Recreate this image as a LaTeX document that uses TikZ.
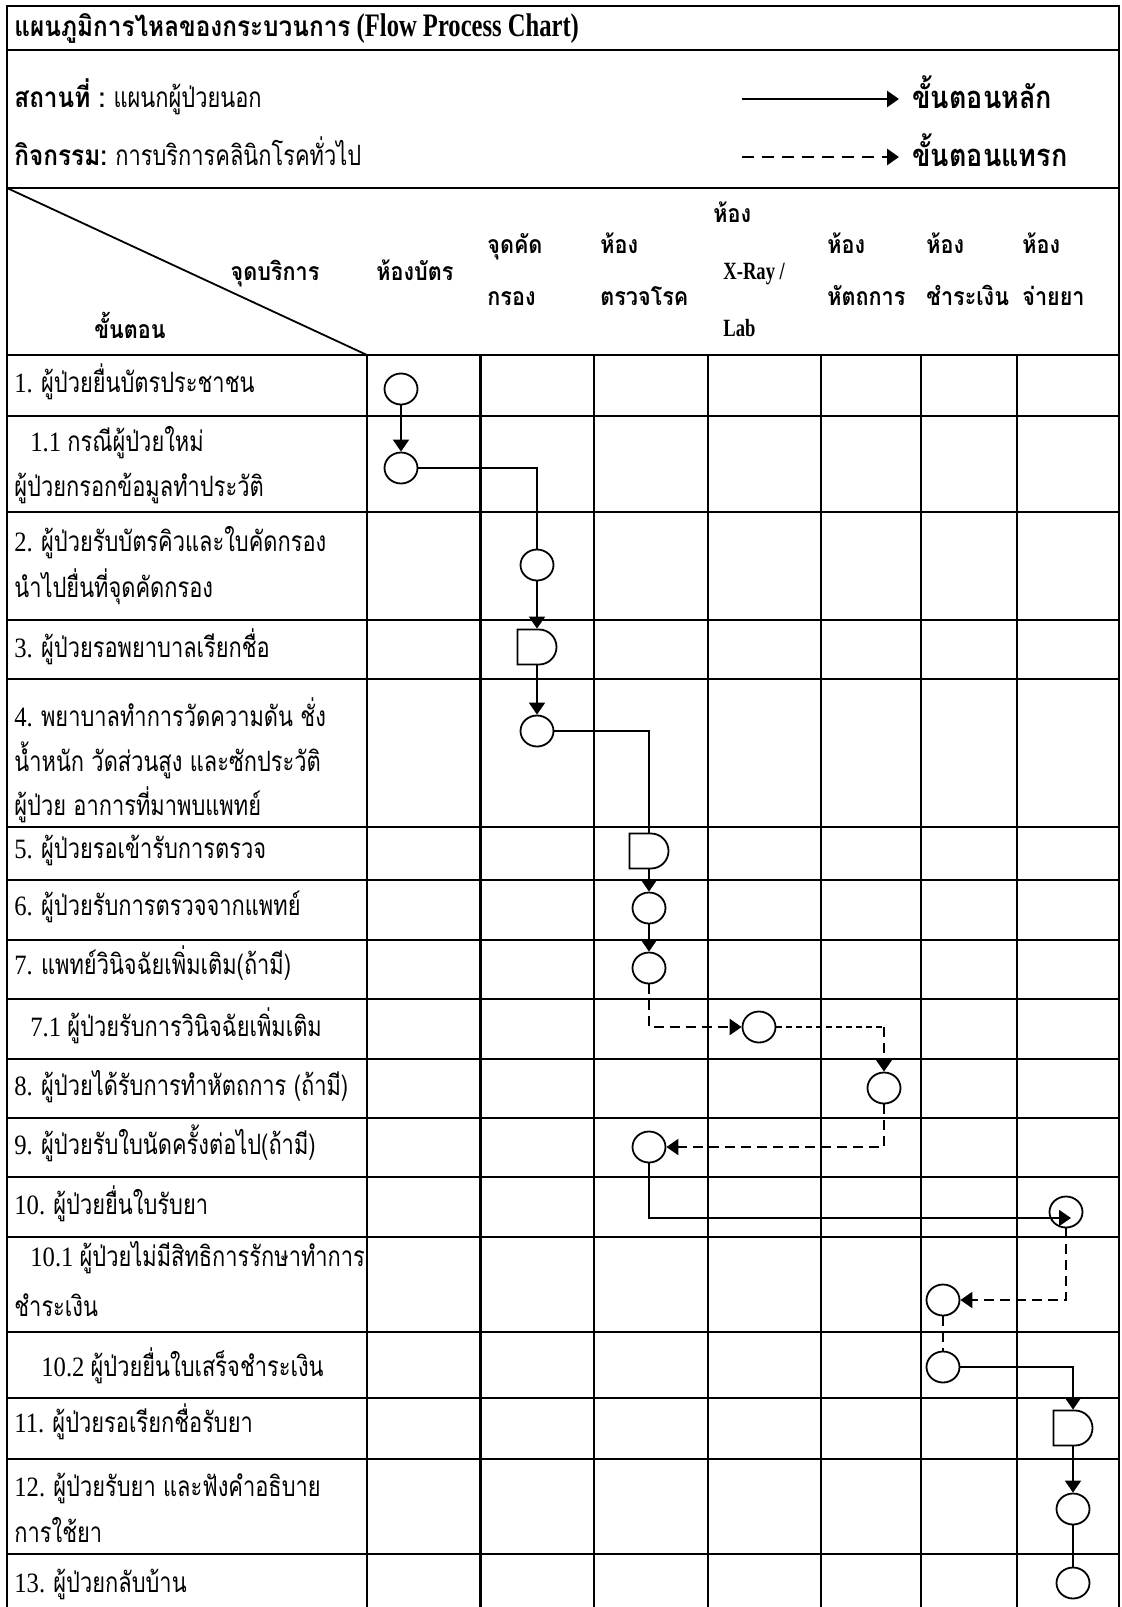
\documentclass[tikz,border=0pt]{standalone}
\usepackage{fontspec}
\setmainfont{Liberation Serif}[FakeStretch=0.88]
\newfontfamily\narrowlatin{Liberation Serif}[FakeStretch=0.75]
\newfontfamily\thai{Loma}[Script=Thai,FakeStretch=0.78,BoldFeatures={FakeStretch=0.87}]
\usetikzlibrary{shapes.geometric,shapes.misc,arrows.meta}

\begin{document}
\begin{tikzpicture}[x=0.5pt,y=-0.5pt,
  gridline/.style={line width=1.1pt},
  act/.style={ellipse,draw,line width=0.9pt,minimum width=16.5pt,minimum height=15.5pt,inner sep=0pt},
  wait/.style={rounded rectangle,rounded rectangle left arc=none,draw,line width=0.9pt,minimum width=19.5pt,minimum height=17.5pt,inner sep=0pt},
  plain/.style={line width=1pt},
  main/.style={line width=1pt,-{Triangle[length=6pt,width=8pt]}},
  extra/.style={line width=1.2pt,dash pattern=on 5pt off 3pt,-{Triangle[length=6pt,width=8pt]}},
  extraplain/.style={line width=1.2pt,dash pattern=on 5pt off 3pt},
  thindash/.style={line width=0.8pt,dash pattern=on 3pt off 2pt},
  legenddash/.style={line width=1.4pt,dash pattern=on 6pt off 4pt,-{Triangle[length=6pt,width=8pt]}},
  steptext/.style={anchor=base west,inner sep=0pt,font=\fontsize{14}{17}\selectfont},
  headtext/.style={anchor=base west,inner sep=0pt,font=\bfseries\fontsize{12.4}{15}\selectfont},
  titletext/.style={anchor=base west,inner sep=0pt,font=\bfseries\fontsize{14}{17}\selectfont},
  legendtext/.style={anchor=base west,inner sep=0pt,font=\bfseries\fontsize{15.5}{19}\selectfont}]
  \useasboundingbox (0,0) rectangle (1122,1607);

  % table
  \draw[gridline] (7,1607) -- (7,6) -- (1119,6) -- (1119,1607);
  \foreach \y in {50,188,355,415.7,512,619.7,679,827,880,940,999,1059,1117.7,1177.3,1236.7,1331.7,1398.3,1459,1554}
    \draw[gridline] (7,\y) -- (1119,\y);
  \foreach \x in {367,480.5,593.7,708,820.6,920.7,1017}
    \draw[gridline] (\x,355) -- (\x,1607);
  \draw[line width=0.9pt] (7,188) -- (367,355);

  % heading
  \node[titletext] (title) at (14,36) {{\thai แผนภูมิการไหลของกระบวนการ} {\narrowlatin\fontsize{16.4}{17}\selectfont (Flow Process Chart)}};
  \node[steptext] (place) at (14,107) {{\bfseries\thai สถานที่ :} {\thai แผนกผู้ป่วยนอก}};
  \node[steptext] (task) at (14,165) {{\bfseries\thai กิจกรรม:} {\thai การบริการคลินิกโรคทั่วไป}};
  \coordinate (lga) at (742,99);
  \coordinate (lgb) at (899,99);
  \coordinate (lgc) at (742,157);
  \coordinate (lgd) at (899,157);
  \draw[main,line width=1.3pt] (lga) -- (lgb);
  \draw[legenddash] (lgc) -- (lgd);
  \node[legendtext] (lgmain) at (912,108) {\thai ขั้นตอนหลัก};
  \node[legendtext] (lgextra) at (912,166) {\thai ขั้นตอนแทรก};

  % column heads
  \node[headtext,anchor=base] (hpoint) at (275,280) {\thai จุดบริการ};
  \node[headtext,anchor=base] (hstep) at (130,338) {\thai ขั้นตอน};
  \node[headtext] (hc1) at (376,280) {\thai ห้องบัตร};
  \node[headtext] (hc2a) at (487,253) {\thai จุดคัด};
  \node[headtext] (hc2b) at (487,305) {\thai กรอง};
  \node[headtext] (hc3a) at (600,253) {\thai ห้อง};
  \node[headtext] (hc3b) at (600,305) {\thai ตรวจโรค};
  \node[headtext] (hc4a) at (713,222) {\thai ห้อง};
  \node[headtext] (hc4b) at (723,279) {\narrowlatin X-Ray /};
  \node[headtext] (hc4c) at (723,336) {\narrowlatin Lab};
  \node[headtext] (hc5a) at (827,253) {\thai ห้อง};
  \node[headtext] (hc5b) at (827,305) {\thai หัตถการ};
  \node[headtext] (hc6a) at (926,253) {\thai ห้อง};
  \node[headtext] (hc6b) at (926,305) {\thai ชำระเงิน};
  \node[headtext] (hc7a) at (1022,253) {\thai ห้อง};
  \node[headtext] (hc7b) at (1022,305) {\thai จ่ายยา};

  % steps
  \node[steptext] (s1) at (14,392) {1. {\thai ผู้ป่วยยื่นบัตรประชาชน}};
  \node[steptext] (s11a) at (30,451) {1.1 {\thai กรณีผู้ป่วยใหม่}};
  \node[steptext] (s11b) at (14,496) {\thai ผู้ป่วยกรอกข้อมูลทำประวัติ};
  \node[steptext] (s2a) at (14,551) {2. {\thai ผู้ป่วยรับบัตรคิวและใบคัดกรอง}};
  \node[steptext] (s2b) at (14,597) {\thai นำไปยื่นที่จุดคัดกรอง};
  \node[steptext] (s3) at (14,657) {3. {\thai ผู้ป่วยรอพยาบาลเรียกชื่อ}};
  \node[steptext] (s4a) at (14,726) {4. {\thai พยาบาลทำการวัดความดัน ชั่ง}};
  \node[steptext] (s4b) at (14,771) {\thai น้ำหนัก วัดส่วนสูง และซักประวัติ};
  \node[steptext] (s4c) at (14,815) {\thai ผู้ป่วย อาการที่มาพบแพทย์};
  \node[steptext] (s5) at (14,858) {5. {\thai ผู้ป่วยรอเข้ารับการตรวจ}};
  \node[steptext] (s6) at (14,915) {6. {\thai ผู้ป่วยรับการตรวจจากแพทย์}};
  \node[steptext] (s7) at (14,974) {7. {\thai แพทย์วินิจฉัยเพิ่มเติม(ถ้ามี)}};
  \node[steptext] (s71) at (30,1036) {7.1 {\thai ผู้ป่วยรับการวินิจฉัยเพิ่มเติม}};
  \node[steptext] (s8) at (14,1095) {8. {\thai ผู้ป่วยได้รับการทำหัตถการ (ถ้ามี)}};
  \node[steptext] (s9) at (14,1154) {9. {\thai ผู้ป่วยรับใบนัดครั้งต่อไป(ถ้ามี)}};
  \node[steptext] (s10) at (14,1214) {10. {\thai ผู้ป่วยยื่นใบรับยา}};
  \node[steptext] (s101a) at (30,1266) {10.1 {\thai ผู้ป่วยไม่มีสิทธิการรักษาทำการ}};
  \node[steptext] (s101b) at (14,1316) {\thai ชำระเงิน};
  \node[steptext] (s102) at (41,1376) {10.2 {\thai ผู้ป่วยยื่นใบเสร็จชำระเงิน}};
  \node[steptext] (s11) at (14,1432) {11. {\thai ผู้ป่วยรอเรียกชื่อรับยา}};
  \node[steptext] (s12a) at (14,1496) {12. {\thai ผู้ป่วยรับยา และฟังคำอธิบาย}};
  \node[steptext] (s12b) at (14,1542) {\thai การใช้ยา};
  \node[steptext] (s13) at (14,1592) {13. {\thai ผู้ป่วยกลับบ้าน}};

  % symbols
  \node[act] (a1) at (401,389) {};
  \node[act] (a2) at (401,468) {};
  \node[act] (b2) at (537,565) {};
  \node[wait] (b3) at (537,647) {};
  \node[act] (b4) at (537,731) {};
  \node[wait] (c5) at (649,851) {};
  \node[act] (c6) at (649,908) {};
  \node[act] (c7) at (649,968) {};
  \node[act] (d71) at (759,1027) {};
  \node[act] (e8) at (884,1088) {};
  \node[act] (c9) at (649,1147) {};
  \node[act] (g10) at (1066,1212) {};
  \node[act] (f101) at (943,1300) {};
  \node[act] (f102) at (943,1367) {};
  \node[wait] (g11) at (1073,1428) {};
  \node[act] (g12) at (1073,1509) {};
  \node[act] (g13) at (1073,1583) {};
  \coordinate (k8) at (884,1027);
  \coordinate (t10) at (1071,1218);

  % flow
  \draw[main] (a1) -- (a2);
  \draw[plain] (a2) -| (b2);
  \draw[main] (b2) -- (b3);
  \draw[main] (b3) -- (b4);
  \draw[plain] (b4) -| (c5);
  \draw[main] (c5) -- (c6);
  \draw[main] (c6) -- (c7);
  \draw[extra] (c7) |- (d71);
  \draw[thindash] (d71) -- (k8);
  \draw[extra] (k8) -- (e8);
  \draw[extra] (e8) |- (c9);
  \draw[main] (c9) |- (t10);
  \draw[extra] (g10) |- (f101);
  \draw[extraplain] (f101) -- (f102);
  \draw[main] (f102) -| (g11);
  \draw[main] (g11) -- (g12);
  \draw[plain] (g12) -- (g13);
\end{tikzpicture}
\end{document}
